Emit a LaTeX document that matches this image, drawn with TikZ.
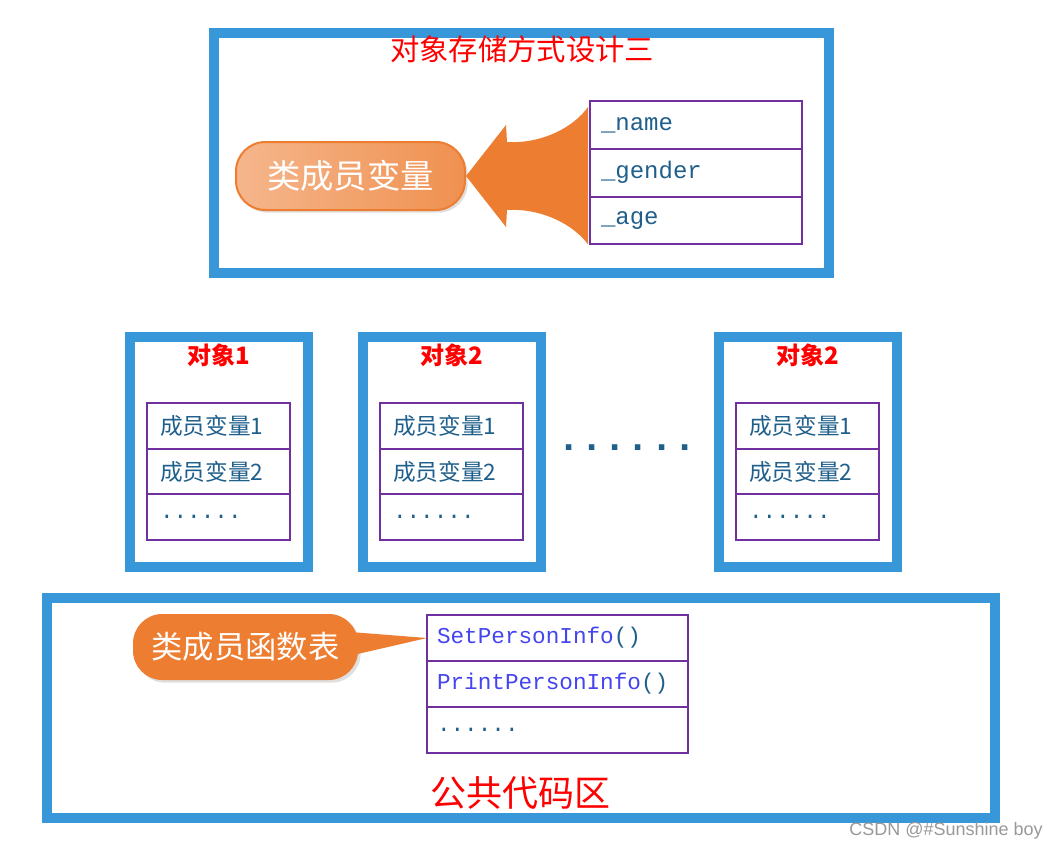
\documentclass[tikz,border=0pt]{standalone}
\usepackage{fontspec}
\newfontfamily\cjk{Noto Sans CJK SC}
\newfontfamily\mono{Liberation Mono}
\newfontfamily\wmfont{Liberation Sans}
\usetikzlibrary{%
	positioning,%
	calc,%
	shadows
}

\definecolor{frameblue}{RGB}{56,151,217}
\definecolor{slotpurple}{RGB}{112,48,160}
\definecolor{ink}{RGB}{31,95,139}
\definecolor{fnblue}{RGB}{68,68,240}
\definecolor{accent}{RGB}{237,125,49}
\definecolor{accentlight}{RGB}{245,182,140}

\tikzset{
	frame/.style={draw=frameblue, line width=7.5pt},
	heading/.style={text=red, inner sep=0pt, font=\cjk\bfseries\fontsize{18pt}{18pt}\selectfont},
	slot/.style={draw=slotpurple, line width=1.5pt, outer sep=0pt, inner ysep=0pt, align=left, text=ink},
	nameslot/.style={slot, text width=142.5pt, inner xsep=8.25pt, minimum height=35.85pt, font=\mono\fontsize{18pt}{18pt}\selectfont},
	objslot/.style={slot, text width=87.75pt, inner xsep=9.75pt, minimum height=34.3pt, font=\cjk\fontsize{17pt}{17pt}\selectfont},
	fnslot/.style={slot, text width=180.75pt, inner xsep=7.5pt, minimum height=34.5pt, font=\mono\fontsize{17pt}{17pt}\selectfont},
	pill/.style={text=white, rounded corners=22pt, inner sep=0pt,
		drop shadow={opacity=0.25, shadow xshift=2pt, shadow yshift=-2pt}}
}

\begin{document}
\begin{tikzpicture}[x=0.75pt, y=-0.75pt]
	\fill[white] (0,0) rectangle (1058,850);
	\useasboundingbox (0,0) rectangle (1058,850);
	% Storage layout
	\draw[frame] (214,33) rectangle (829,273);
	\node[heading, font=\cjk\fontsize{22pt}{22pt}\selectfont] (title) at (522,49) {对象存储方式设计三};
	\node[nameslot, anchor=north west] (name) at (590,101) {\_name};
	\node[nameslot, below=0pt of name] (gender) {\_gender};
	\node[nameslot, below=0pt of gender] (age) {\_age};
	\node[pill, draw=accent, line width=1.5pt, left color=accentlight, right color=accent!85!white,
		minimum width=171.75pt, minimum height=51pt, font=\cjk\fontsize{25pt}{25pt}\selectfont] (member) at (350.5,176) {类成员变量};
	\fill[accent] (member.east) -- (506,125) -- (507,142) .. controls (542,144) and (574,127) .. ($(name.north west)+(-2,6)$)
		-- ($(age.south west)+(-2,0)$) .. controls (574,225) and (542,208) .. (507,210) -- (506,227) -- cycle;
	% Objects
	\foreach \x/\i/\t in {130/1/对象1, 363/2/对象2, 719/3/对象2} {
		\draw[frame] (\x,337) rectangle ++(178,230);
		\node[heading] (head\i) at (\x+89,355) {\t};
		\node[objslot, anchor=north west] (vara\i) at (\x+17,403) {成员变量1};
		\node[objslot, below=0pt of vara\i] (varb\i) {成员变量2};
		\node[objslot, below=0pt of varb\i, font=\mono\fontsize{17pt}{17pt}\selectfont] (varc\i) {......};
	}
	\node[text=ink, inner sep=0pt, anchor=base, font=\mono\bfseries\fontsize{29pt}{29pt}\selectfont] (gap) at (627,450) {......};
	% Shared code
	\draw[frame] (47,598) rectangle (995,818);
	\node[fnslot, anchor=north west] (setinfo) at (427,615) {\textcolor{fnblue}{SetPersonInfo}()};
	\node[fnslot, below=0pt of setinfo] (printinfo) {\textcolor{fnblue}{PrintPersonInfo}()};
	\node[fnslot, below=0pt of printinfo] (morefn) {......};
	\node[pill, fill=accent, minimum width=168.75pt, minimum height=49.5pt,
		font=\cjk\fontsize{23.5pt}{23.5pt}\selectfont] (fnlist) at (245.5,647) {类成员函数表};
	\fill[accent] ($(fnlist.east)+(-8,-15)$) -- (setinfo.west) -- ($(fnlist.east)+(-5,8)$) -- cycle;
	\node[heading, font=\cjk\fontsize{27pt}{27pt}\selectfont] (area) at (520,793) {公共代码区};
	\node[anchor=east, inner sep=0pt, text=gray!80, font=\wmfont\fontsize{13.5pt}{13.5pt}\selectfont] (credit) at (1043,831) {CSDN @\#Sunshine boy};
\end{tikzpicture}
\end{document}
